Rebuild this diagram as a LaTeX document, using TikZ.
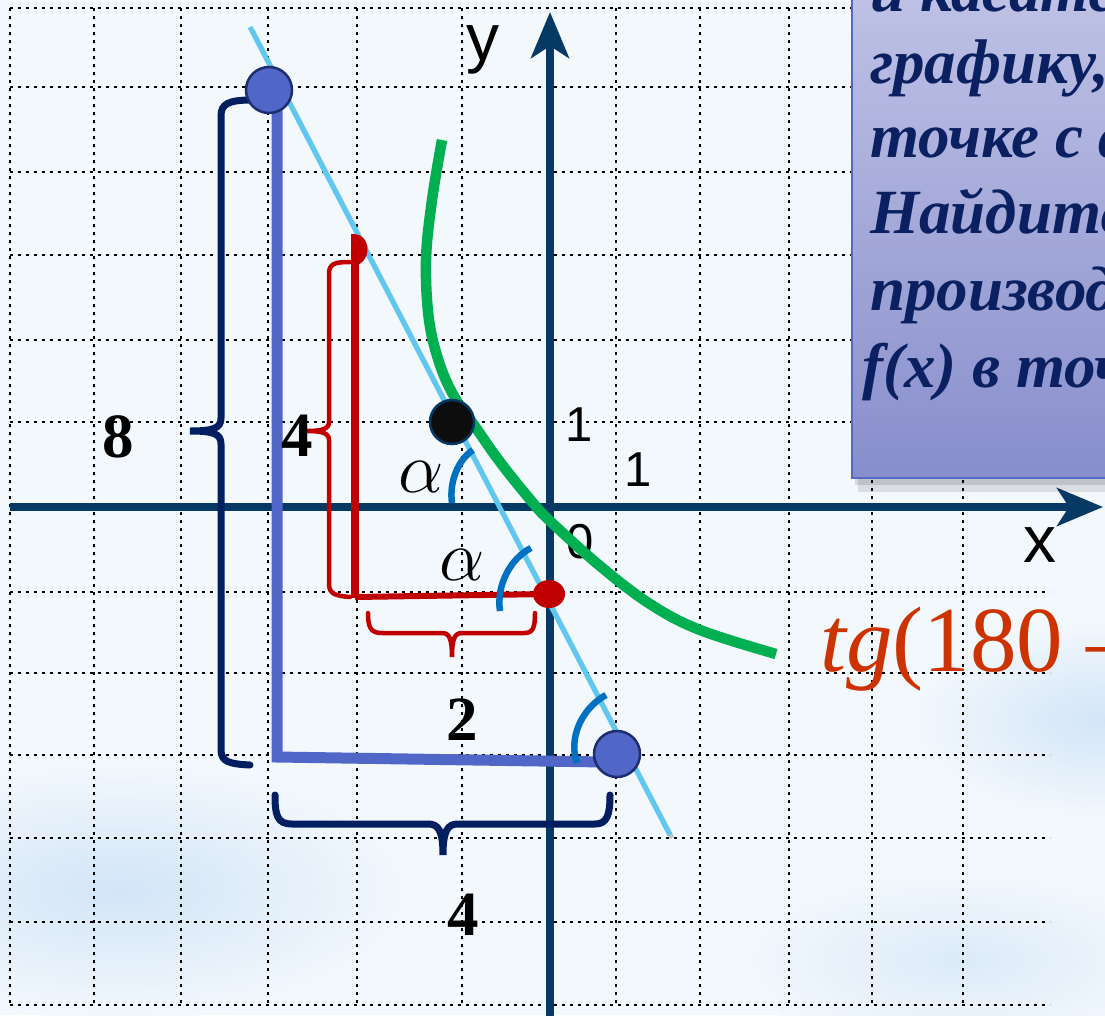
\documentclass[tikz,border=0pt]{standalone}
\usepackage{fix-cm}
\usepackage{fontspec}
\setmainfont{Liberation Serif}
\newfontfamily\arialfont{Liberation Sans}
\usepackage{xcolor}
\usepackage{tikz}
\usetikzlibrary{arrows.meta}
\definecolor{bgcol}{RGB}{243,248,253}
\definecolor{bgblue}{RGB}{210,229,247}
\definecolor{axiscol}{RGB}{6,58,100}
\definecolor{tangcol}{RGB}{94,200,240}
\definecolor{greencol}{RGB}{0,176,80}
\definecolor{lblue}{RGB}{80,103,200}
\definecolor{dotrim}{RGB}{30,45,110}
\definecolor{navycol}{RGB}{0,30,96}
\definecolor{redcol}{RGB}{192,0,0}
\definecolor{arccol}{RGB}{0,112,192}
\definecolor{tgcol}{RGB}{204,51,0}
\definecolor{boxtxt}{RGB}{10,32,96}
\definecolor{boxtop}{RGB}{192,195,230}
\definecolor{boxbot}{RGB}{136,142,204}
\definecolor{boxedge}{RGB}{84,104,200}

\begin{document}
\begin{tikzpicture}[x=1pt, y=-1pt,
  gridline/.style={line width=2.6pt, dash pattern=on 2.6pt off 5.4pt, black},
  axisline/.style={line width=7.5pt, axiscol, -{Stealth[length=46pt, width=38pt, inset=12pt]}},
  navybrace/.style={line width=7pt, navycol, line cap=round},
  redbrace/.style={line width=4.5pt, redcol, line cap=round},
  anglearc/.style={line width=6.5pt, arccol},
  bigdot/.style={fill=lblue, draw=dotrim, line width=2.5pt},
  boldnum/.style={inner sep=0pt, font=\fontsize{63}{63}\selectfont\bfseries},
  sanslbl/.style={inner sep=0pt, font=\arialfont\fontsize{49}{49}\selectfont},
  anglelbl/.style={inner sep=0pt, font=\fontsize{72}{72}\selectfont},
  boxline/.style={anchor=base west, inner sep=0pt, text=boxtxt,
    font=\fontsize{63}{63}\selectfont\bfseries\itshape}
]
\useasboundingbox (0,0) rectangle (1105,1015);
\clip (0,0) rectangle (1105,1015);

% Background
\fill[bgcol] (0,0) rectangle (1105,1015);
\shade[inner color=bgblue, outer color=bgcol] (120,890) ellipse (300 and 130);
\shade[inner color=bgblue, outer color=bgcol] (1105,720) ellipse (200 and 100);
\shade[inner color=bgblue!70!bgcol, outer color=bgcol] (960,960) ellipse (230 and 90);

% Dotted grid
\foreach \gy in {8,87,172,255,340,422,592,673,755,838,922,1005}
    \draw[gridline] (10,\gy) -- (1050,\gy);
\foreach \gx in {10,94,181,268,357,462,616,700,789,872,963}
    \draw[gridline] (\gx,8) -- (\gx,1005);

% Axes
\draw[axisline] (10,507) -- (1103,507);
\draw[axisline] (550,1020) -- (550,12);

% Axis labels
\node[sanslbl, font=\arialfont\fontsize{66}{66}\selectfont] (ylab) at (483,50) {y};
\node[sanslbl, font=\arialfont\fontsize{66}{66}\selectfont] (xlab) at (1040,545) {x};
\node[sanslbl] (oneY) at (579,425) {1};
\node[sanslbl] (oneX) at (638,470) {1};
\node[sanslbl] (zero) at (580,542) {0};

% Points
\coordinate (Ptop) at (269,90);
\coordinate (Pbot) at (617,754);
\coordinate (Ptan) at (452,422);
\coordinate (Pred) at (549,594);
\coordinate (Lcorner) at (277,757);

% Tangent line
\coordinate (tA) at (250,27);
\coordinate (tB) at (670,835);
\draw[line width=5pt, black, opacity=0.2] ([shift={(2,3)}]tA) -- ([shift={(2,3)}]tB);
\draw[line width=5pt, tangcol] (tA) -- (tB);

% Graph of f
\draw[line width=10.5pt, greencol] plot[smooth, tension=0.6] coordinates {
    (442,140) (432,200) (426,260) (429,320) (440,365) (455,398) (474,425)
    (500,462) (533,503) (550,521) (600,566) (650,604) (700,630) (776,654)};

% Brace 8
\draw[navybrace] (252,100) .. controls (228,100) and (221,104) .. (221,116) -- (221,418)
    .. controls (221,428) and (214,431) .. (190,431)
    .. controls (214,431) and (221,434) .. (221,444) -- (221,750)
    .. controls (221,762) and (230,764) .. (250,765);

% Big triangle
\draw[line width=11pt, lblue] (277,100) -- (Lcorner) -- (605,762);

% Brace 4 (bottom)
\draw[navybrace] (275,795) .. controls (275,815) and (277,824) .. (292,824) -- (428,824)
    .. controls (438,824) and (443,830) .. (443,855)
    .. controls (443,830) and (448,824) .. (458,824) -- (595,824)
    .. controls (607,824) and (610,815) .. (610,795);

% Small triangle
\draw[line width=7.5pt, redcol] (355,255) -- (355,598);
\fill[redcol] (351,234) .. controls (373,232) and (373,266) .. (351,266) -- cycle;
\draw[line width=6pt, redcol] (355,597) -- (Pred);
\fill[redcol] (Pred) ellipse (16 and 14);

% Red braces
\draw[redbrace] (350,262) .. controls (334,262) and (329,264) .. (329,274) -- (329,422)
    .. controls (329,429) and (322,431) .. (307,431)
    .. controls (322,431) and (329,433) .. (329,440) -- (329,584)
    .. controls (329,594) and (336,596) .. (350,597);
\draw[redbrace] (368,613) .. controls (368,628) and (371,633) .. (382,633) -- (442,633)
    .. controls (449,633) and (452,638) .. (452,657)
    .. controls (452,638) and (455,633) .. (462,633) -- (524,633)
    .. controls (533,633) and (535,628) .. (535,613);

% Angle marks
\draw[anglearc] (473,450) .. controls (458,460) and (449,482) .. (452,503);
\draw[anglearc] (531,548) .. controls (511,558) and (496,585) .. (500,611);
\draw[anglearc] (606,695) .. controls (582,708) and (568,738) .. (577,763);

% Dots
\draw[bigdot] (Ptop) circle (23);
\draw[bigdot] (Pbot) circle (23);
\draw[fill=black!95, draw=axiscol, line width=2.5pt] (Ptan) circle (22);

% Lengths and angles
\node[anglelbl] (alphaA) at (421,477) {$\alpha$};
\node[anglelbl] (alphaB) at (462,565) {$\alpha$};
\node[boldnum] (eight) at (118,437) {8};
\node[boldnum] (fourL) at (297,436) {4};
\node[boldnum] (two) at (462,720) {2};
\node[boldnum] (fourB) at (463,915) {4};

% Formula
\node[anchor=base west, inner sep=0pt, text=tgcol, font=\fontsize{93}{93}\selectfont]
    (tgtext) at (820,671) {\textit{tg}(180 –};

% Task box
\fill[black, opacity=0.10] (858,-20) rectangle (1120,492);
\fill[black, opacity=0.12] (855,-20) rectangle (1120,485);
\shade[top color=boxtop, bottom color=boxbot, draw=boxedge, line width=2.5pt]
    (852,-20) rectangle (1120,478);
\node[boxline] (qA) at (870,11) {и касательная};
\node[boxline] (qB) at (870,83) {графику,};
\node[boxline] (qC) at (870,157) {точке с абсциссой};
\node[boxline] (qD) at (870,233) {Найдите};
\node[boxline] (qE) at (870,310) {производную};
\node[boxline] (qF) at (862,387) {f(x) в точке};

\end{tikzpicture}
\end{document}
